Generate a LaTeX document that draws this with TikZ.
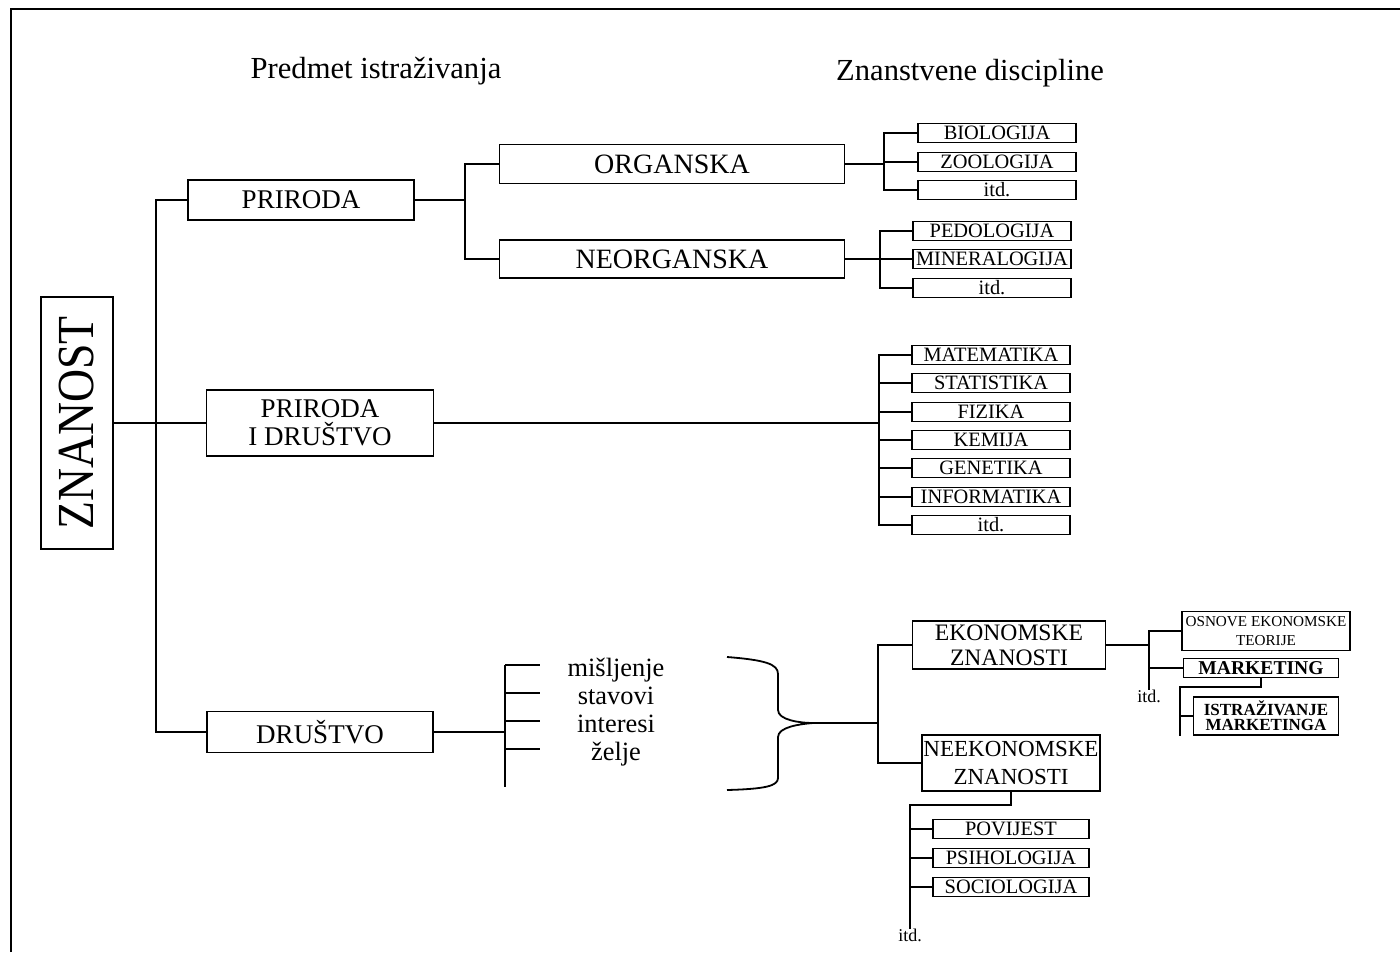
\documentclass[tikz,border=0pt]{standalone}
\usepackage{fontspec}
\setmainfont{Liberation Serif}
\usepackage{graphicx}
\usetikzlibrary{positioning}

\begin{document}
\begin{tikzpicture}[
  x=0.5pt, y=-0.5pt,
  box/.style={rectangle, draw, line width=0.9pt, inner sep=1pt, align=center, font=\fontsize{13.5}{14}\selectfont},
  leaf/.style={box, minimum width=79pt, minimum height=9.5pt, inner ysep=0pt, font=\fontsize{10.2}{10}\selectfont},
  link/.style={line width=0.9pt},
  word/.style={inner sep=0pt, text height=14.4pt, text depth=3.3pt, font=\fontsize{13.2}{14}\selectfont},
  note/.style={inner sep=0pt, font=\fontsize{9}{10}\selectfont},
  head/.style={font=\fontsize{15.3}{16}\selectfont}
]
\useasboundingbox (0,0) rectangle (1400,952);
\draw[link] (11,952) -- (11,9) -- (1400,9);

\node[head] (hpred) at (376,71) {Predmet istraživanja};
\node[head] (hdisc) at (970,73) {Znanstvene discipline};

\node[box, minimum width=36pt, minimum height=126pt, font=\fontsize{26}{26}\selectfont] (znanost) at (77,423) {\rotatebox{90}{\scalebox{0.88}[1]{ZNANOST}}};

\node[box, minimum width=113pt, minimum height=20pt] (priroda) at (301,200) {PRIRODA};
\node[box, minimum width=113.5pt, minimum height=33pt] (pid) at (320,423) {PRIRODA\\I DRUŠTVO};
\node[box, minimum width=113pt, minimum height=20.5pt] (drustvo) at (320,732) {DRUŠTVO};
\node[box, minimum width=172.5pt, minimum height=19.5pt, font=\fontsize{14}{14}\selectfont] (organska) at (672,164) {ORGANSKA};
\node[box, minimum width=172.5pt, minimum height=19pt, font=\fontsize{14}{14}\selectfont] (neorganska) at (672,259) {NEORGANSKA};

\node[leaf] (bio) at (997,133) {BIOLOGIJA};
\node[leaf] (zoo) at (997,162) {ZOOLOGIJA};
\node[leaf] (itda) at (997,190) {itd.};
\node[leaf] (pedo) at (992,231) {PEDOLOGIJA};
\node[leaf] (mine) at (992,259) {MINERALOGIJA};
\node[leaf] (itdb) at (992,288) {itd.};
\node[leaf] (mate) at (991,355) {MATEMATIKA};
\node[leaf] (stat) at (991,383) {STATISTIKA};
\node[leaf] (fiz) at (991,412) {FIZIKA};
\node[leaf] (kem) at (991,440) {KEMIJA};
\node[leaf] (gen) at (991,468) {GENETIKA};
\node[leaf] (inf) at (991,497) {INFORMATIKA};
\node[leaf] (itdc) at (991,525) {itd.};

\node[word] (misl) at (616,665) {mišljenje};
\node[word] (stav) at (616,693) {stavovi};
\node[word] (inte) at (616,721) {interesi};
\node[word] (zelj) at (616,749) {želje};

\node[box, minimum width=96.5pt, minimum height=24pt, font=\fontsize{11.8}{12.5}\selectfont] (ekon) at (1009,645) {EKONOMSKE\\ZNANOSTI};
\node[box, minimum width=89pt, minimum height=28pt, inner xsep=0.5pt, font=\fontsize{11.5}{14}\selectfont] (neekon) at (1011,763) {NEEKONOMSKE\\ZNANOSTI};
\node[box, minimum width=84pt, minimum height=19.5pt, font=\fontsize{7.6}{9.5}\selectfont] (osnove) at (1266,631) {OSNOVE EKONOMSKE\\TEORIJE};
\node[box, minimum width=77.5pt, minimum height=9.5pt, inner ysep=0pt, font=\bfseries\fontsize{9.8}{10}\selectfont] (mark) at (1261,668) {MARKETING};
\node[box, minimum width=72.5pt, minimum height=19pt, font=\bfseries\fontsize{8.5}{7.6}\selectfont] (istr) at (1266,716) {ISTRAŽIVANJE\\MARKETINGA};

\node[leaf, minimum width=78pt] (povi) at (1011,829) {POVIJEST};
\node[leaf, minimum width=78pt] (psih) at (1011,858) {PSIHOLOGIJA};
\node[leaf, minimum width=78pt] (soci) at (1011,887) {SOCIOLOGIJA};

\node[note, anchor=north] (itde) at (1149,690) {itd.};
\node[note, anchor=north] (itdn) at (910,929) {itd.};

\coordinate (trunk) at (156,0);
\coordinate (jp) at (465,0);
\coordinate (jo) at (884,0);
\coordinate (jn) at (880,0);
\coordinate (jd) at (879,0);
\coordinate (wbot) at (505,787);
\coordinate (tick) at (540,0);
\coordinate (je) at (878,0);
\coordinate (jm) at (1180,687);
\coordinate (jk) at (910,805);
\coordinate (brtop) at (727,657);
\coordinate (brtip) at (813,723);
\coordinate (brbot) at (727,790);

\draw[link] (znanost.east) -- (znanost.east -| pid.west);
\draw[link] (priroda.west) -- (priroda.west -| trunk) -- (drustvo.west -| trunk) -- (drustvo.west);

\draw[link] (priroda.east) -- (priroda.east -| jp);
\draw[link] (organska.west) -- (organska.west -| jp) -- (neorganska.west -| jp) -- (neorganska.west);

\draw[link] (organska.east) -- (organska.east -| jo);
\draw[link] (bio.west) -- (bio.west -| jo) -- (itda.west -| jo) -- (itda.west);
\draw[link] (zoo.west) -- (zoo.west -| jo);

\draw[link] (neorganska.east) -- (neorganska.east -| jn);
\draw[link] (pedo.west) -- (pedo.west -| jn) -- (itdb.west -| jn) -- (itdb.west);
\draw[link] (mine.west) -- (mine.west -| jn);

\draw[link] (pid.east) -- (pid.east -| jd);
\draw[link] (mate.west) -- (mate.west -| jd) -- (itdc.west -| jd) -- (itdc.west);
\draw[link] (stat.west) -- (stat.west -| jd);
\draw[link] (fiz.west) -- (fiz.west -| jd);
\draw[link] (kem.west) -- (kem.west -| jd);
\draw[link] (gen.west) -- (gen.west -| jd);
\draw[link] (inf.west) -- (inf.west -| jd);

\draw[link] (drustvo.east) -- (drustvo.east -| wbot);
\draw[link] (misl -| wbot) -- (wbot);
\draw[link] (misl -| wbot) -- (misl -| tick);
\draw[link] (stav -| wbot) -- (stav -| tick);
\draw[link] (inte -| wbot) -- (inte -| tick);
\draw[link] (zelj -| wbot) -- (zelj -| tick);

\draw[link] (brtop) .. controls (765,660) and (778,664) .. (778,674) -- (778,710)
  .. controls (778,720) and (800,723) .. (brtip)
  .. controls (800,724) and (778,727) .. (778,737) -- (778,778)
  .. controls (778,786) and (765,789) .. (brbot);
\draw[link] (brtip) -- (brtip -| je);
\draw[link] (ekon.west) -- (ekon.west -| je) -- (neekon.west -| je) -- (neekon.west);

\draw[link] (ekon.east) -- (ekon.east -| itde.north);
\draw[link] (osnove.west) -| (itde.north);
\draw[link] (mark.west) -- (mark.west -| itde.north);
\draw[link] (mark.south) |- (jm) -- (jm |- istr.south);
\draw[link] (istr.west) -- (istr.west -| jm);

\draw[link] (neekon.south) |- (jk) -- (itdn.north);
\draw[link] (povi.west) -- (povi.west -| jk);
\draw[link] (psih.west) -- (psih.west -| jk);
\draw[link] (soci.west) -- (soci.west -| jk);
\end{tikzpicture}
\end{document}
